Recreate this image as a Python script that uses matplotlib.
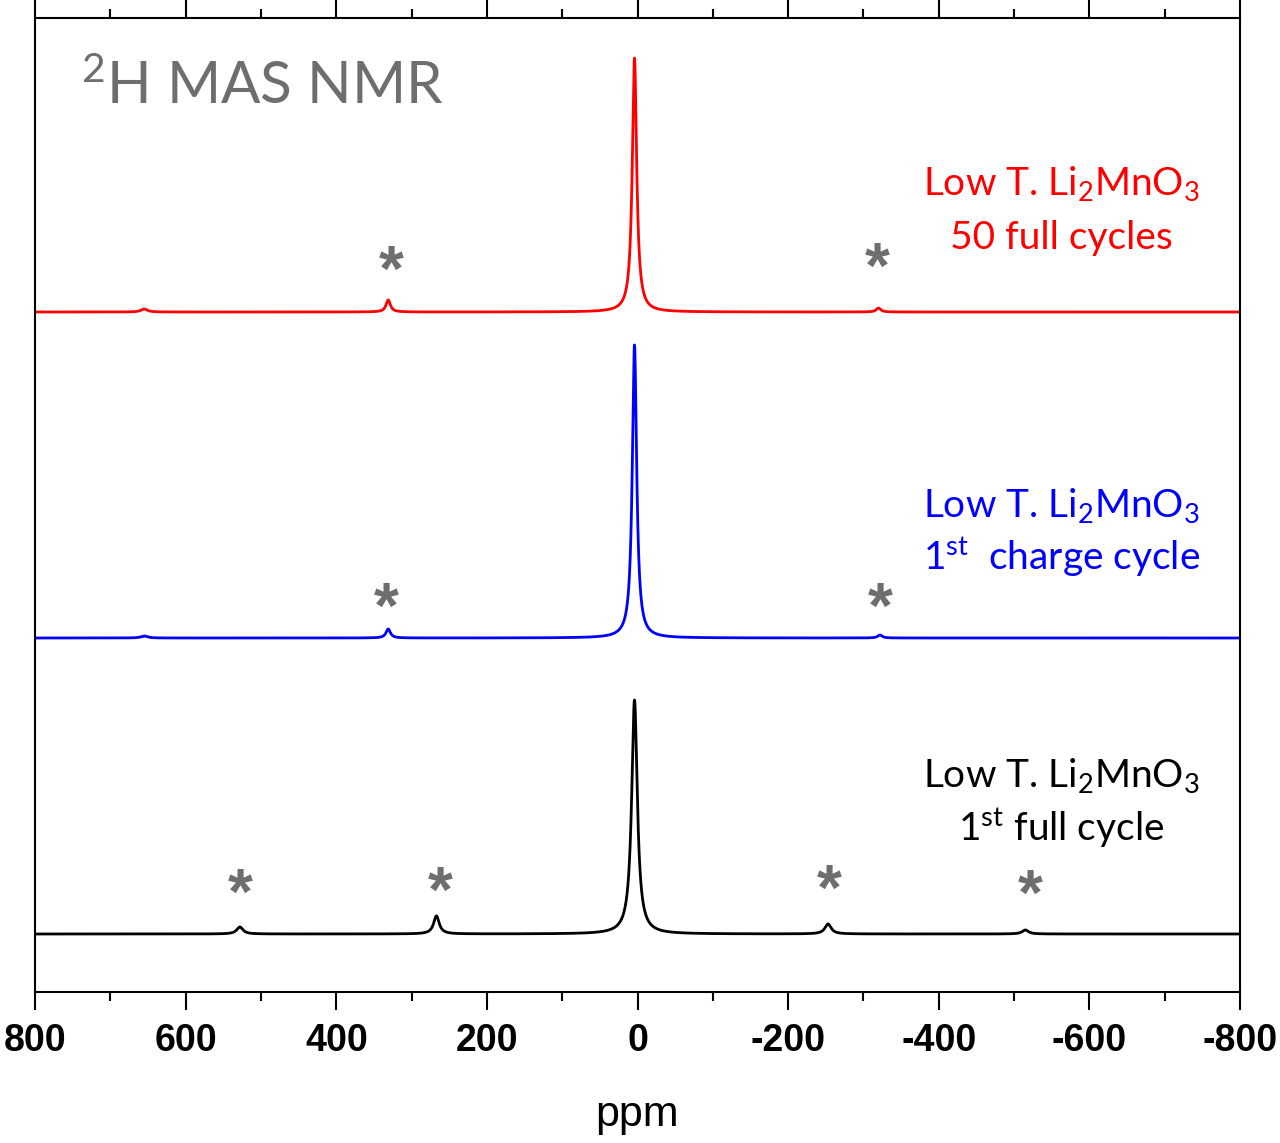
import numpy as np
import matplotlib
matplotlib.use("Agg")
import matplotlib.pyplot as plt

# peak tables: position (ppm), height, half width (ppm)
red_pos = [4, 331, -320, 655]
red_amp = [2.54, 0.12, 0.04, 0.03]
red_wid = [3.5, 3.5, 3.5, 5.0]
red_base = 6.80

blue_pos = [4, 331, -322, 655]
blue_amp = [2.93, 0.09, 0.03, 0.02]
blue_wid = [3.5, 3.5, 3.5, 5.0]
blue_base = 3.54

black_pos = [4, 528, 267, -253, -515]
black_amp = [2.34, 0.07, 0.18, 0.10, 0.04]
black_wid = [4.5, 5.0, 4.5, 5.0, 5.0]
black_base = 0.58

# spinning sideband markers (ppm, y)
star_red = [(327, 7.18), (-318, 7.21)]
star_blue = [(333, 3.81), (-322, 3.81)]
star_black = [(527, 0.95), (262, 0.97), (-255, 0.99), (-521, 0.94)]

labels = [
    ("Low T. Li$\\mathregular{_2}$MnO$\\mathregular{_3}$", "50 full cycles", "red", 7.97, 7.43),
    ("Low T. Li$\\mathregular{_2}$MnO$\\mathregular{_3}$", "1$\\mathregular{^{st}}$  charge cycle", "blue", 4.75, 4.22),
    ("Low T. Li$\\mathregular{_2}$MnO$\\mathregular{_3}$", "1$\\mathregular{^{st}}$ full cycle", "black", 2.05, 1.51),
]
xticks = [800, 600, 400, 200, 0, -200, -400, -600, -800]
xticklabels = ["800", "600", "400", "200", "0", "-200", "-400", "-600", "-800"]

plt.rcParams["mathtext.fontset"] = "custom"
plt.rcParams["mathtext.rm"] = "Lato"
plt.rcParams["mathtext.it"] = "Lato:italic"
plt.rcParams["mathtext.bf"] = "Lato:bold"

ppm = np.linspace(800, -800, 16001)


def spectrum(pos, amp, wid, base):
    y = np.full_like(ppm, base)
    for p, a, w in zip(pos, amp, wid):
        y += a * w**2 / ((ppm - p) ** 2 + w**2)
    return y


fig = plt.figure(figsize=(12.8, 11.43), dpi=100)
ax = fig.add_axes([35 / 1280, 1 - 992 / 1143, 1205 / 1280, 974 / 1143])

ax.plot(ppm, spectrum(red_pos, red_amp, red_wid, red_base), color="#ff0000", lw=2.0)
ax.plot(ppm, spectrum(blue_pos, blue_amp, blue_wid, blue_base), color="#0000ff", lw=2.0)
ax.plot(ppm, spectrum(black_pos, black_amp, black_wid, black_base), color="black", lw=2.0)

for x, y in star_red + star_blue + star_black:
    ax.text(x, y, "*", color="#6e6e6e", fontsize=46, fontweight="bold",
            family="Liberation Sans", ha="center", va="center")

for l1, l2, c, y1, y2 in labels:
    ax.text(-563, y1, l1, color=c, fontsize=28, family="Lato", ha="center", va="baseline")
    ax.text(-563, y2, l2, color=c, fontsize=28, family="Lato", ha="center", va="baseline")

ax.text(0.038, 0.912, "$\\mathregular{^2}$H MAS NMR", transform=ax.transAxes,
        color="#6e6e6e", fontsize=42, family="Lato", ha="left", va="baseline")

ax.set_xlim(800, -800)
ax.set_ylim(0, 9.74)
ax.set_yticks([])
ax.set_xticks(xticks)
ax.set_xticklabels(xticklabels, fontsize=27, fontweight="bold", family="Liberation Sans")
ax.set_xticks(np.arange(700, -800, -200), minor=True)
ax.tick_params(axis="x", which="major", direction="out", length=13, width=1.5,
               top=True, pad=9)
ax.tick_params(axis="x", which="minor", direction="out", length=6.5, width=1.5, top=True)
for s in ax.spines.values():
    s.set_linewidth(1.5)
ax.set_xlabel("ppm", fontsize=31, family="Liberation Sans", labelpad=26)

fig.savefig("out.png", dpi=100)
